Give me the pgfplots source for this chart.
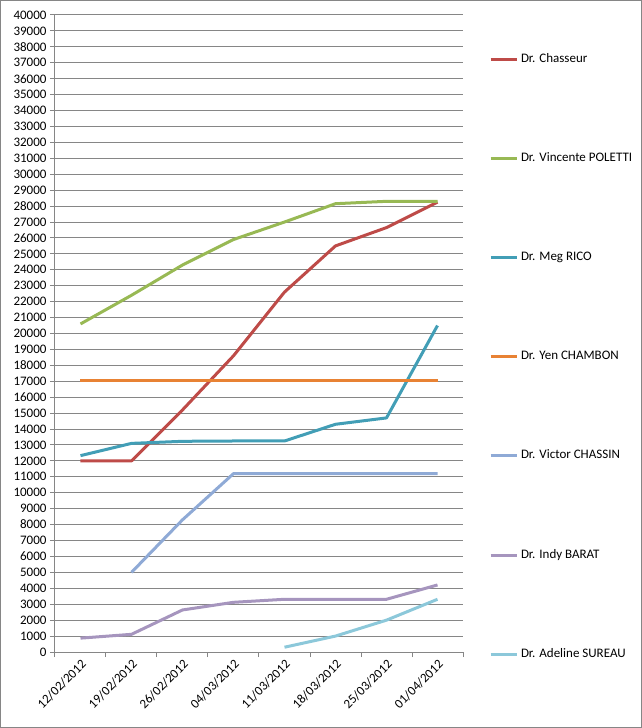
\documentclass[border=0pt]{standalone}
\usepackage{fontspec}
\setmainfont{Carlito}
\usepackage{pgfplots}
\pgfplotsset{compat=1.18}
\definecolor{gridgray}{RGB}{134,134,134}
\definecolor{cRed}{RGB}{190,75,72}
\definecolor{cGreen}{RGB}{152,185,84}
\definecolor{cTeal}{RGB}{66,158,182}
\definecolor{cOrange}{RGB}{232,130,52}
\definecolor{cLBlue}{RGB}{143,170,214}
\definecolor{cPurple}{RGB}{166,149,190}
\definecolor{cAqua}{RGB}{140,200,218}
\begin{document}
\begin{tikzpicture}[x=1pt,y=1pt]
\path[use as bounding box] (0,0) rectangle (642,728);
\draw[gridgray, line width=1pt] (0.5,0.5) rectangle (641.5,727.5);
\begin{axis}[
  at={(55pt,76pt)}, anchor=south west,
  scale only axis, width=408pt, height=637pt,
  xmin=-0.5, xmax=7.5, ymin=0, ymax=40000,
  axis x line*=bottom, axis y line*=left,
  axis line style={gridgray, line width=1pt, -},
  xtick={-0.5,0.5,...,7.5},
  x tick label as interval,
  xticklabels={12/02/2012,19/02/2012,26/02/2012,04/03/2012,11/03/2012,18/03/2012,25/03/2012,01/04/2012},
  x tick label style={rotate=45, anchor=north east, font=\fontsize{13}{15}\selectfont, inner sep=1pt},
  ytick={0,1000,...,40000},
  scaled y ticks=false,
  y tick label style={font=\fontsize{13}{15}\selectfont, /pgf/number format/fixed, /pgf/number format/set thousands separator={}},
  /pgf/number format/assume math mode=true,
  tick align=outside, major tick length=5pt,
  tick style={gridgray, line width=1pt},
  ymajorgrids, major grid style={gridgray, line width=1pt},
  legend cell align=left,
  legend image code/.code={\draw[#1] (0pt,0pt) -- (26pt,0pt);},
  legend style={at={(axis description cs:1,1)}, anchor=north west, xshift=26pt, yshift=-38pt,
    draw=none, fill=none, inner sep=0pt, outer sep=0pt, row sep=87.2pt, column sep=3pt,
    font=\fontsize{13}{15}\selectfont, nodes={inner sep=0pt, text height=9pt, text depth=3pt}},
  every axis plot/.append style={line width=3pt, no markers, line join=round},
]
\addplot[cRed] coordinates {(0,12000) (1,12000) (2,15200) (3,18600) (4,22600) (5,25500) (6,26650) (7,28250)};
\addlegendentry{Dr. Chasseur}
\addplot[cGreen] coordinates {(0,20600) (1,22400) (2,24300) (3,25900) (4,27000) (5,28150) (6,28300) (7,28300)};
\addlegendentry{Dr. Vincente POLETTI}
\addplot[cTeal] coordinates {(0,12330) (1,13100) (2,13230) (3,13250) (4,13250) (5,14300) (6,14700) (7,20500)};
\addlegendentry{Dr. Meg RICO}
\addplot[cOrange] coordinates {(0,17070) (1,17070) (2,17070) (3,17070) (4,17070) (5,17070) (6,17070) (7,17070)};
\addlegendentry{Dr. Yen CHAMBON}
\addplot[cLBlue] coordinates {(1,5000) (2,8300) (3,11200) (4,11200) (5,11200) (6,11200) (7,11200)};
\addlegendentry{Dr. Victor CHASSIN}
\addplot[cPurple] coordinates {(0,870) (1,1110) (2,2640) (3,3120) (4,3310) (5,3310) (6,3310) (7,4210)};
\addlegendentry{Dr. Indy BARAT}
\addplot[cAqua] coordinates {(4,300) (5,1000) (6,2000) (7,3310)};
\addlegendentry{Dr. Adeline SUREAU}
\end{axis}
\end{tikzpicture}
\end{document}
